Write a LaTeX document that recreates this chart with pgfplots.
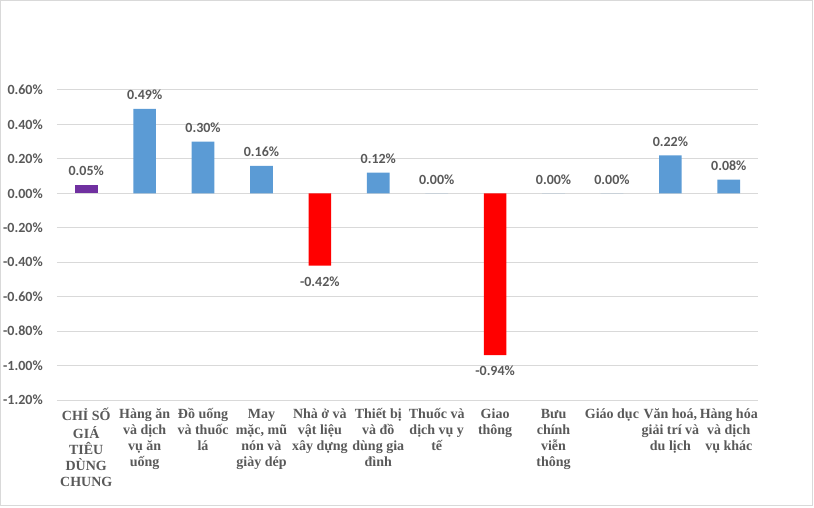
\documentclass[border=0pt]{standalone}
\usepackage{pgfplots}
\pgfplotsset{compat=1.18}
\usepackage{fontspec}
\setmainfont{Liberation Serif}
\newfontfamily\calibri{Carlito}
\definecolor{txt}{HTML}{595959}
\definecolor{gridc}{HTML}{D9D9D9}
\definecolor{cpurple}{HTML}{7030A0}
\definecolor{cblue}{HTML}{5B9BD5}
\definecolor{cred}{HTML}{FF0000}
\begin{document}
\begin{tikzpicture}
\path[use as bounding box] (0pt,0pt) rectangle (610.5pt,380.25pt);
\draw[color=gridc, line width=0.75pt] (0.4pt,1pt) rectangle (609.4pt,379.9pt);
\begin{axis}[
  at={(42.75pt,80.25pt)}, anchor=south west,
  scale only axis, width=525.75pt, height=232.5pt,
  ybar, bar width=17pt,
  xmin=-0.5, xmax=11.5, ymin=-1.2, ymax=0.6,
  ytick={-1.2,-1.0,-0.8,-0.6,-0.4,-0.2,0,0.2,0.4,0.6},
  ymajorgrids, grid style={color=gridc, line width=0.75pt},
  axis line style={draw=none}, major tick length=0pt,
  /pgf/number format/assume math mode=true,
  yticklabel={\pgfmathprintnumber[fixed,fixed zerofill,precision=2]{\tick}\%},
  yticklabel style={anchor=east, inner sep=0pt, xshift=-10.5pt, font=\calibri\bfseries\fontsize{10.5}{12}\selectfont, text=txt},
  xtick={0,...,11},
  xticklabels={
    {CHỈ SỐ\\GIÁ\\TIÊU\\DÙNG\\CHUNG},
    {Hàng ăn\\và dịch\\vụ ăn\\uống},
    {Đồ uống\\và thuốc\\lá},
    {May\\mặc, mũ\\nón và\\giày dép},
    {Nhà ở và\\vật liệu\\xây dựng},
    {Thiết bị\\và đồ\\dùng gia\\đình},
    {Thuốc và\\dịch vụ y\\tế},
    {Giao\\thông},
    {Bưu\\chính\\viễn\\thông},
    {Giáo dục},
    {Văn hoá,\\giải trí và\\du lịch},
    {Hàng hóa\\và dịch\\vụ khác}},
  typeset ticklabels with strut,
  xticklabel style={anchor=north, inner sep=0pt, yshift=-5.6pt, align=center, font=\bfseries\fontsize{10.5}{12}\selectfont, text=txt},
  nodes near coords={\pgfmathprintnumber[fixed,fixed zerofill,precision=2]{\pgfplotspointmeta}\%},
  every node near coord/.append style={font=\calibri\bfseries\fontsize{10.5}{12}\selectfont, text=txt, inner sep=0pt, anchor=center},
]
\addplot[fill=cpurple, draw=none, bar shift=0pt, every node near coord/.append style={yshift=10.5pt}]
  coordinates {(0,0.05)};
\addplot[fill=cblue, draw=none, bar shift=0pt, every node near coord/.append style={yshift=10.5pt}]
  coordinates {(1,0.49) (2,0.30) (3,0.16) (5,0.12) (6,0.00) (8,0.00) (9,0.00) (10,0.22) (11,0.08)};
\addplot[fill=cred, draw=none, bar shift=0pt, every node near coord/.append style={yshift=-12pt}]
  coordinates {(4,-0.42) (7,-0.94)};
\end{axis}
\end{tikzpicture}
\end{document}
